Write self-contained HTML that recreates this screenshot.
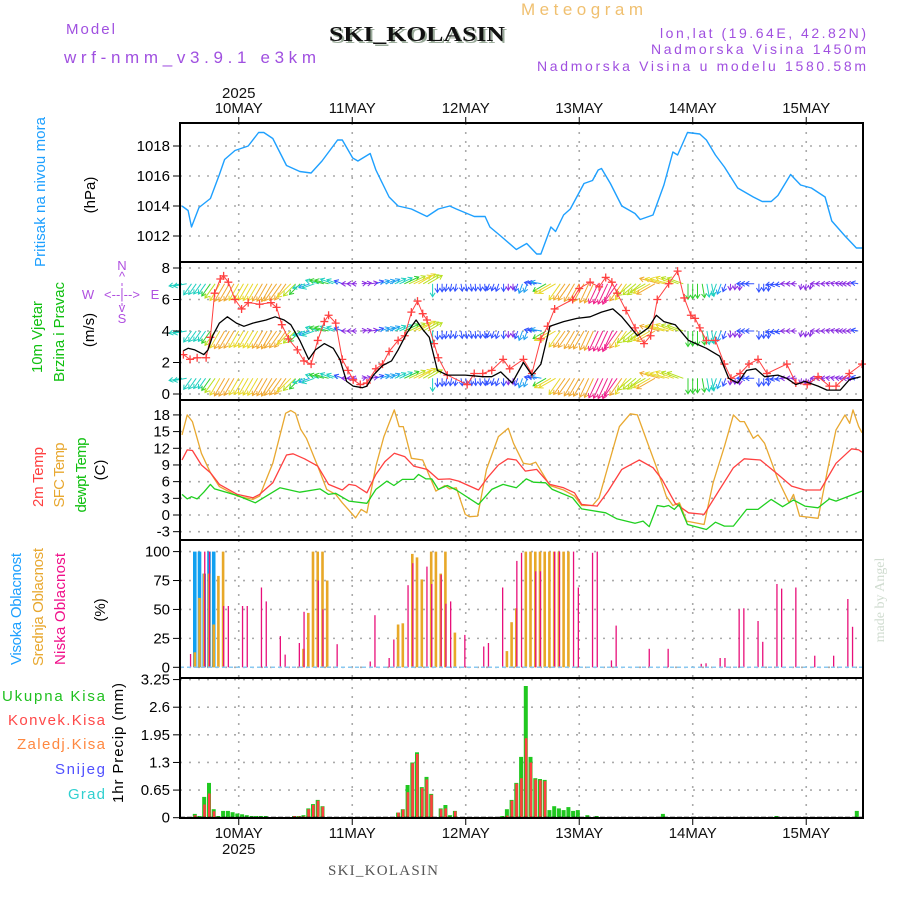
<!DOCTYPE html>
<html><head><meta charset="utf-8"><title>Meteogram SKI_KOLASIN</title>
<style>
html,body{margin:0;padding:0;background:#fff;}
svg{display:block;font-family:"Liberation Sans",sans-serif;}
.tk{font-size:15px;fill:#000;text-anchor:end;}
.dl{font-size:15px;fill:#111;text-anchor:middle;}
</style></head>
<body>
<svg id="chart" width="900" height="900" viewBox="0 0 900 900" xmlns="http://www.w3.org/2000/svg">
<rect x="0" y="0" width="900" height="900" fill="#fff"/>
<text x="521" y="15" font-size="17" fill="#f0c070" textLength="122" lengthAdjust="spacing">Meteogram</text>
<text x="66" y="34" font-size="15" fill="#a050e0" textLength="49" lengthAdjust="spacing">Model</text>
<text x="64" y="63" font-size="17" fill="#a050e0" textLength="252" lengthAdjust="spacing">wrf-nmm_v3.9.1 e3km</text>
<text x="331" y="43" font-size="21" font-weight="bold" font-family="Liberation Serif, serif" fill="#9a9" textLength="176" lengthAdjust="spacingAndGlyphs">SKI_KOLASIN</text>
<text x="329" y="41" font-size="21" font-weight="bold" font-family="Liberation Serif, serif" fill="#111" textLength="176" lengthAdjust="spacingAndGlyphs">SKI_KOLASIN</text>
<text x="660" y="38" font-size="14" fill="#a050e0" textLength="206" lengthAdjust="spacing">lon,lat (19.64E, 42.82N)</text>
<text x="651" y="54" font-size="14" fill="#a050e0" textLength="215" lengthAdjust="spacing">Nadmorska Visina 1450m</text>
<text x="537" y="71" font-size="14" fill="#a050e0" textLength="329" lengthAdjust="spacing">Nadmorska Visina u modelu 1580.58m</text>

<!-- left titles -->
<g font-size="15">
<text transform="translate(45,192) rotate(-90)" text-anchor="middle" fill="#1ea0ff" textLength="150" lengthAdjust="spacing">Pritisak na nivou mora</text>
<text transform="translate(95,195) rotate(-90)" text-anchor="middle" fill="#000">(hPa)</text>
<text transform="translate(42,337) rotate(-90)" text-anchor="middle" fill="#10c010" textLength="72" lengthAdjust="spacing">10m Vjetar</text>
<text transform="translate(64,332) rotate(-90)" text-anchor="middle" fill="#10c010" textLength="100" lengthAdjust="spacing">Brzina i Pravac</text>
<text transform="translate(94,330) rotate(-90)" text-anchor="middle" fill="#000">(m/s)</text>
<text transform="translate(43,477) rotate(-90)" text-anchor="middle" fill="#ff4040" textLength="60" lengthAdjust="spacing">2m Temp</text>
<text transform="translate(64,475) rotate(-90)" text-anchor="middle" fill="#e8a830" textLength="65" lengthAdjust="spacing">SFC Temp</text>
<text transform="translate(86,475) rotate(-90)" text-anchor="middle" fill="#10c010" textLength="75" lengthAdjust="spacing">dewpt Temp</text>
<text transform="translate(105,470) rotate(-90)" text-anchor="middle" fill="#000">(C)</text>
<text transform="translate(21,609) rotate(-90)" text-anchor="middle" fill="#1ea0ff" textLength="112" lengthAdjust="spacing">Visoka Oblacnost</text>
<text transform="translate(43,607) rotate(-90)" text-anchor="middle" fill="#e8a830" textLength="118" lengthAdjust="spacing">Srednja Oblacnost</text>
<text transform="translate(65,609) rotate(-90)" text-anchor="middle" fill="#f0108a" textLength="112" lengthAdjust="spacing">Niska Oblacnost</text>
<text transform="translate(105,610) rotate(-90)" text-anchor="middle" fill="#000">(%)</text>
<text transform="translate(123,743) rotate(-90)" text-anchor="middle" fill="#000" textLength="120" lengthAdjust="spacing">1hr Precip (mm)</text>
<text x="2" y="701" fill="#20c020" textLength="103" lengthAdjust="spacing">Ukupna  Kisa</text>
<text x="8" y="725" fill="#ff4848" textLength="97" lengthAdjust="spacing">Konvek.Kisa</text>
<text x="17" y="749" fill="#ff8840" textLength="88" lengthAdjust="spacing">Zaledj.Kisa</text>
<text x="55" y="774" fill="#5050ff" textLength="50" lengthAdjust="spacing">Snijeg</text>
<text x="68" y="799" fill="#30d0d0" textLength="37" lengthAdjust="spacing">Grad</text>
</g>
<g fill="#b050e0" font-size="13" text-anchor="middle">
<text x="122" y="270">N</text><text x="122" y="281">^</text>
<text x="88" y="299">W</text><text x="122" y="299">&lt;--|--&gt;</text><text x="155" y="299">E</text>
<text x="122" y="312">v</text><text x="122" y="323">S</text>
<line x1="122" y1="283" x2="122" y2="306" stroke="#b050e0" stroke-dasharray="3 2"/>
</g>
<text transform="translate(884,600) rotate(-90)" text-anchor="middle" font-size="14" font-family="Liberation Serif, serif" fill="#d0dcd0">made by Angel</text>
<text x="328" y="875" font-size="15" font-family="Liberation Serif, serif" fill="#555" textLength="110" lengthAdjust="spacing">SKI_KOLASIN</text>

<g id="grid"></g>
<g id="marks"></g>
<g id="axes"></g>
</svg>
<script>
// ---------- data ----------
const dayLabels = ["10MAY","11MAY","12MAY","13MAY","14MAY","15MAY"];
const yearLabel = "2025";
const pressTicks = [1018,1016,1014,1012];
const windTicks = [8,6,4,2,0];
const tempTicks = [18,15,12,9,6,3,0,-3];
const cloudTicks = [100,75,50,25,0];
const precipTicks = [3.25,2.6,1.95,1.3,0.65,0];

const pressH = [0,1.3,2,3.6,6,7.9,9,11.2,14,16.2,17.3,19.2,22.1,24.9,27.3,29.6,32.9,33.9,36.1,37.2,39.8,41,43.8,45.7,48.5,51.8,54.2,56.6,58,61.8,64.1,65.1,67.4,70.7,72.9,75,75.9,78,79,80.7,82.1,85,86.8,88,88.7,90.6,93,95.8,96.9,99.6,101.9,103.8,104.8,106.9,109.5,110.9,112.8,114.7,117.5,120.8,122.7,124.6,126,128.7,130.8,133.1,136,137.4,140.2,142.6,143.8];
const pressV = [1014.0,1013.7,1012.6,1013.9,1014.5,1016.1,1017.1,1017.7,1018.0,1018.9,1018.9,1018.5,1016.7,1016.3,1016.2,1017,1018.4,1018.4,1017.2,1017,1017.5,1016.4,1014.6,1014,1013.8,1013.3,1013.8,1014,1013.8,1013.3,1013.3,1012.6,1012,1011.1,1011.5,1010.8,1010.8,1012.6,1012.3,1013.4,1013.8,1015.5,1015.7,1016.4,1016.5,1015.5,1014,1013.5,1013.1,1013.4,1015.4,1017.6,1017.4,1018.9,1018.8,1018.4,1017.4,1016.6,1015.2,1014.6,1014.3,1014.3,1014.7,1016.1,1015.4,1015.2,1014.6,1013,1012,1011.2,1011.2];

const windH = [0.3,1.3,2.7,4.6,5.5,6.5,7.9,9.6,11.5,13.1,15,17.8,19.7,21.6,23,24.9,26.8,28.2,30.1,32,33.4,34.8,36.2,38.1,39.1,40.5,42.4,44.3,45.7,47.6,49.5,50.9,52.3,54,56.1,59.9,63.6,65.5,67.4,69.8,72.2,74,75.9,77.8,80.7,83.5,86.3,88.7,91.1,93,94.4,96.3,98.6,100.3,101.9,104.3,107.1,110.9,113.7,115.6,117.5,119.4,121.3,123.2,126,127.9,129.8,131.7,134.5,136.4,139.2,141.1,143.5];
const windV = [2.75,2.9,2.8,2.5,2.8,3.7,4.5,4.9,4.5,4.3,4.5,4.7,4.9,4.7,4.4,3.4,2.2,2.8,3.2,2.9,2.2,0.8,0.5,0.4,0.5,1.2,1.8,2.1,2.8,3.9,4.7,4.1,3.6,1.5,1.2,1.2,1.1,1.1,1.4,0.7,2.0,1.2,1.9,4.3,4.6,4.8,4.9,5.2,5.4,4.9,4.4,3.7,4.2,5.0,4.6,4.4,3.4,2.9,2.4,1.0,0.7,1.5,1.6,1.1,1.2,1.0,0.6,0.8,0.5,0.25,0.25,0.9,1.1];
const gustH = [0.3,1.7,3.2,5.1,6,6.9,8.1,8.8,9.8,11.2,12.6,14,16.4,18.8,20,21.1,22.5,24.4,25.8,27.3,28.7,30.1,31,32.5,33.9,35.1,36.2,37.7,39.1,41,42.4,43.8,45.7,47.1,48.5,49.8,50.9,51.8,53.3,54.2,56.1,60.3,61.8,63.6,65.5,67.9,69.3,72.2,74,75.9,77.3,78.8,82.6,84,86.3,88.2,89.6,90.9,92,93.9,95.8,97.7,99.1,100.5,102.9,104.8,106.2,107.6,108.5,109.5,110.9,112.8,114.7,116.1,118,119.9,121.8,123.7,127.9,129.8,132.2,134.5,136.9,138.3,141.1,143.8];
const gustV = [2.5,2.2,2.3,2.3,3.6,6.4,7.3,7.5,7.1,6.0,5.4,5.8,5.7,5.8,5.5,4.4,3.5,2.8,2.1,1.9,3.4,4.6,5.0,4.5,2.2,1.5,0.9,0.6,0.7,1.6,1.9,2.7,3.4,3.7,5.2,5.9,5.1,4.7,3.2,2.3,1.2,0.6,1.3,1.3,1.5,2.2,1.6,2.2,1.3,3.5,4.3,5.4,6.0,6.7,7.1,6.8,7.4,7.1,6.4,5.3,4.2,3.2,3.7,6.0,7.0,7.8,6.1,5.0,4.8,4.2,3.4,3.4,1.9,1.0,1.3,1.9,2.2,1.3,1.9,0.7,0.6,1.1,0.5,0.5,1.3,1.9];
// wind "to" direction (compass deg), every 3 hours
const windDir3h = [260,215,215,210,210,210,210,215,225,250,285,290,270,80,70,65,65,60,180,190,170,175,200,180,200,280,240,215,210,205,205,215,230,240,285,290,180,170,200,185,270,180,260,270,190,270,280,270,280];
const windRows = [7,4,1];

const sfcH = [0,1.1,2.2,4.1,6,7.9,11.7,15,16.4,19.2,21.9,23,24,25.1,26.3,28.7,30.6,32.5,33.9,36.7,37.9,39.1,41,42.7,44.9,45.9,46.8,48.5,50.9,53.7,55.6,56.6,58,59.9,60.8,62.5,64.4,66.9,69,70.1,72.2,73.6,74.8,77.8,80.7,83,84.5,86.8,88.2,90.1,92.5,94.8,96.3,98.6,100.5,102.4,103.8,105.2,106.7,110.4,112.3,114.7,116.6,118,118.9,120.8,121.8,123.2,126,128.4,129.3,130.6,134.5,136.4,138.3,140.2,141.2,141.9,143.1,143.8];
const sfcV = [14.4,18,16.8,11.1,7.6,5.1,3.4,2.8,3.4,9.3,18.3,18.8,18.3,15.4,13.8,8.8,4.6,3.7,2.2,-0.5,1.0,0.4,8.8,14.1,18.9,15.9,15.9,10.2,9.9,4.3,5.3,4.7,4.9,0.1,-0.3,-0.2,8.2,14.1,15.6,12.9,9.3,9.1,9.5,5.3,4.5,3.4,1.7,1.7,3.1,8.8,15.9,18.2,18,12.6,8.2,3.4,1.7,2.2,-1.1,-1.7,5.8,12.3,18,16.8,16.8,13.8,14.4,12.9,6.4,2.2,3.7,-0.2,-0.6,7.6,15.3,18,16.5,18.9,15.9,14.8];
const t2mH = [0,1.1,2.2,4.1,6,7.9,11.7,15,16.4,19.2,22.1,23.5,25.9,28.7,31,33.9,35.3,36.7,39.1,41,42.9,44.9,47.1,49,51.8,54.2,56.6,58.5,62.7,64.6,66.9,68.9,70.7,72.6,75,77.8,80.7,83,84.5,87.8,90.1,93,96.7,99.6,101.5,104.3,107.1,110.4,113.7,116.6,118.9,122.3,126,128.9,131.7,135,138.3,141.6,143.1,143.8];
const t2mV = [9.9,11.7,11.6,9.0,7.6,5.5,3.7,3.1,3.7,5.8,10.8,11.0,10.1,8.8,5.5,4.5,5.5,5.3,4.0,7.3,9.6,11.1,10.5,8.8,8.2,6.4,6.5,6.1,4.5,6.7,9.0,10.1,9.9,7.9,8.2,5.5,4.9,4.0,1.9,1.6,4.3,8.2,9.9,8.5,6.4,2.1,0.4,0.1,4.6,8.5,10.1,9.9,7.3,5.2,4.5,4.5,9.3,11.9,11.7,11.3];
const dewH = [0,1.1,2,3.2,4.6,6,6.9,11.7,15.5,20.7,24.9,29.2,31,32.5,35.3,39.1,41,43.3,44.8,46.6,49,50,51.6,52.8,54.2,56.1,58,62.7,65.5,67.9,70.7,72.8,74.3,76.9,78.3,82.6,84.5,89.6,92,95.8,97.5,98.8,100.5,101.9,102.9,104.1,105.1,106.9,110.9,112.8,114.7,116.6,119.4,121.8,124.6,127,129.3,131.7,134.5,136.9,138.3,143.8];
const dewV = [3.7,2.9,3.3,2.9,4.1,5.5,4.7,3.5,2.2,4.9,4.1,4.7,3.7,3.9,2.5,2.1,4.6,6.1,5.3,6.4,6.4,7.3,6.5,6.5,4.6,5.3,4.5,1.9,4.6,5.5,4.9,6.5,5.9,5.8,4.6,3.1,1.1,0.4,-0.7,-1.5,-1.1,-2.1,1.7,1.5,1.7,1.0,1.9,-1.7,-2.6,-1.3,-2.0,-2.0,1.0,1.0,2.8,1.5,2.7,1.6,1.3,2.9,2.5,4.3];

const highCloudH = [3,4,5,6,7];
const highCloudV = [100,100,81,100,100];
const midCloudH = [3,4,5,6,7,8,9,26,27,28,29,30,31,46,47,49,50,51,53,54,55,56,58,69,70,71,73,74,75,76,77,78,79,80,81,82];
const midCloudV = [13,60,81,81,37,79,100,16,47,100,100,100,75,37,38,98,95,76,100,100,81,100,30,14,39,51,100,100,100,100,100,100,100,100,100,100];
const lowCloudH = [2,5,6,9,10,13,14,17,18,21,22,25,26,29,30,33,40,41,44,45,48,49,52,53,55,56,57,60,64,65,68,71,72,75,76,79,80,83,84,87,88,91,92,99,103,110,111,114,115,118,119,122,123,126,127,130,134,138,141,142];
const lowCloudV = [11.5,100,100,53,53,53,53,69,57,27,11,21,48,75,50,20,5,45,8,24,71,90,87,72,80,55,57,28,18,21,69,92,99,83,83,100,100,100,69,99,100,6,36,16,16,3,3.5,8,8,50,51,40,22,72,68,69,10,10,59,35];

const precipH = [3,4,5,6,7,8,9,10,11,12,13,14,15,16,17,18,24,25,26,27,28,29,30,46,47,48,49,50,51,52,53,55,56,57,58,68,69,70,71,72,73,74,75,76,77,78,79,80,81,82,83,84,86,88,102,126,143];
const totalRain = [0.09,0.04,0.49,0.82,0.2,0.04,0.16,0.16,0.13,0.1,0.08,0.06,0.04,0.04,0.04,0.04,0.04,0.04,0.06,0.22,0.32,0.42,0.27,0.12,0.2,0.77,1.3,1.54,0.72,0.96,0.56,0.22,0.3,0.06,0.16,0.04,0.2,0.42,0.82,1.43,3.1,1.43,0.93,0.91,0.89,0.18,0.27,0.22,0.18,0.25,0.16,0.18,0.06,0.04,0.09,0.04,0.16];
const convRain = [0.06,0,0.31,0.57,0.15,0,0,0,0,0,0,0,0,0,0,0,0.04,0.03,0.03,0.2,0.3,0.4,0.26,0.12,0.19,0.6,1.28,1.5,0.7,0.9,0.54,0.2,0.22,0.02,0.15,0.02,0.05,0.4,0.8,0.93,1.87,1.3,0.9,0.88,0.86,0,0,0,0,0,0,0,0,0,0,0,0];

// ---------- axes ----------
const NS = "http://www.w3.org/2000/svg";
const L = 180, R = 863;
const X = h => 182 + h * 4.729;
const Yp = p => 146 + (1018 - p) * 15;
const Yw = s => 394 - s * 15.75;
const Yt = t => 515 - t * 5.56;
const Yc = c => 667.3 - c * 1.157;
const Yr = r => 817.7 - r * 42.5;
const panels = [[123,262,pressTicks,Yp,"pressure"],[262,400,windTicks,Yw,"wind"],[400,540,tempTicks,Yt,"temperature"],[540,678,cloudTicks,Yc,"cloud"],[678,818,precipTicks,Yr,"precip"]];

function mk(tag, attrs, parent) {
  const e = document.createElementNS(NS, tag);
  for (const k in attrs) e.setAttribute(k, attrs[k]);
  parent.appendChild(e);
  return e;
}
const G = document.getElementById("grid");
const M = document.getElementById("marks");
const A = document.getElementById("axes");

panels.forEach(([top, bot, ticks, Y, nm]) => {
  ticks.forEach(v => {
    const y = Y(v);
    if (y > top + 1 && y < bot - 1) {
      const g = mk("line", {x1:L, x2:R, y1:y, y2:y, stroke:"#aaa", "stroke-width":1.6, "stroke-dasharray":"2 7"}, G);
      
      
    }
    const t = mk("line", {x1:173, x2:L, y1:y, y2:y, stroke:"#000", "stroke-width":1}, A);
    
    
    const lb = mk("text", {x:170, y:y + 5, class:"tk"}, A);
    lb.textContent = String(v);
    
    
  });
  for (let k = 0; k < dayLabels.length; k++) {
    const x = X(12 + 24 * k);
    const g = mk("line", {x1:x, x2:x, y1:top, y2:bot, stroke:"#aaa", "stroke-width":1.6, "stroke-dasharray":"2 7"}, G);
    
    
  }
  const b = mk("rect", {x:L, y:top, width:R - L, height:bot - top, fill:"none", stroke:"#000", "stroke-width":2}, A);
  
  
});
dayLabels.forEach((d, k) => {
  const x = X(12 + 24 * k);
  [[117, 123], [818, 825]].forEach(([a, b2]) => {
    const t = mk("line", {x1:x, x2:x, y1:a, y2:b2, stroke:"#000", "stroke-width":1}, A);
    
    
  });
  const t1 = mk("text", {x:x, y:113, class:"dl"}, A);
  t1.textContent = d;
  
  
  const t2 = mk("text", {x:x, y:838, class:"dl"}, A);
  t2.textContent = d;
  
  
});
const y1 = mk("text", {x:X(12), y:98, class:"dl"}, A);
y1.textContent = yearLabel;


const y2 = mk("text", {x:X(12), y:854, class:"dl"}, A);
y2.textContent = yearLabel;



function line(H, V, Y, color, w, name) {
  const d = H.map((h, i) => (i ? "L" : "M") + X(h).toFixed(1) + "," + Y(V[i]).toFixed(1)).join("");
  const p = mk("path", {d:d, fill:"none", stroke:color, "stroke-width":w, "stroke-linejoin":"round"}, M);
  
  
}
function interp(H, V, h) {
  if (h <= H[0]) return V[0];
  for (let i = 1; i < H.length; i++) if (h <= H[i]) { const f = (h - H[i-1]) / (H[i] - H[i-1]); return V[i-1] + f * (V[i] - V[i-1]); }
  return V[V.length - 1];
}

line(pressH, pressV, Yp, "#1ea0ff", 1.4, "pressure-line");

function spColor(s) {
  if (s < 1) return "#8a2be2";
  if (s < 1.6) return "#3050ff";
  if (s < 2.3) return "#20a0f0";
  if (s < 3) return "#20d0c0";
  if (s < 3.7) return "#30d030";
  if (s < 4.2) return "#b8e020";
  if (s < 4.6) return "#e8d828";
  if (s < 5.1) return "#f0a830";
  return "#f0208a";
}
for (let h = 0; h <= 143; h++) {
  const s = interp(windH, windV, h);
  const dir = windDir3h[Math.round(h / 3)] * Math.PI / 180;
  const len = 3.2 + s * 3.6;
  const dx = Math.sin(dir) * len, dy = -Math.cos(dir) * len;
  const c = spColor(s);
  windRows.forEach(row => {
    const x0 = X(h), y0 = Yw(row);
    const x1 = x0 + dx, y1b = y0 + dy;
    const ux = dx / len, uy = dy / len;
    const hx1 = x1 - ux * 4 + uy * 2.5, hy1 = y1b - uy * 4 - ux * 2.5;
    const hx2 = x1 - ux * 4 - uy * 2.5, hy2 = y1b - uy * 4 + ux * 2.5;
    const a = mk("path", {d:`M${x0.toFixed(1)},${y0.toFixed(1)}L${x1.toFixed(1)},${y1b.toFixed(1)}M${hx1.toFixed(1)},${hy1.toFixed(1)}L${x1.toFixed(1)},${y1b.toFixed(1)}L${hx2.toFixed(1)},${hy2.toFixed(1)}`, fill:"none", stroke:c, "stroke-width":1}, M);
    
    
  });
}
line(gustH, gustV, Yw, "#ff4040", 1, "wind-gust-line");
gustH.forEach((h, i) => {
  const x = X(h), y = Yw(gustV[i]);
  const p = mk("path", {d:`M${x-4},${y}H${x+4}M${x},${y-4}V${y+4}`, stroke:"#ff4040", "stroke-width":1.3}, M);
  
  
});
line(windH, windV, Yw, "#000", 1.3, "wind-speed-line");

line(sfcH, sfcV, Yt, "#e8a830", 1.3, "sfc-temp-line");
line(t2mH, t2mV, Yt, "#ff4040", 1.3, "temp-2m-line");
line(dewH, dewV, Yt, "#20d020", 1.3, "dewpoint-line");

function bars(H, V, Y, color, w, name, off) {
  H.forEach((h, i) => {
    const x = X(h - 0.3) + off, y = Y(V[i]), y0 = Y(0);
    const r = mk("rect", {x:(x - w / 2).toFixed(1), y:y.toFixed(1), width:w, height:Math.max(0, y0 - y).toFixed(1), fill:color}, M);
    
    
  });
}
bars(highCloudH, highCloudV, Yc, "#10a0f0", 3.6, "high-cloud-bar", 0);
bars(midCloudH, midCloudV, Yc, "#e8a828", 2.6, "mid-cloud-bar", 0);
bars(lowCloudH, lowCloudV, Yc, "#e8107a", 1.3, "low-cloud-bar", 0.5);
const cb = mk("line", {x1:L, x2:R, y1:Yc(0), y2:Yc(0), stroke:"#8ac8f0", "stroke-width":1.5, "stroke-dasharray":"4 3"}, M);



bars(precipH, totalRain, Yr, "#20c820", 4, "total-rain-bar", 0);
bars(precipH, convRain, Yr, "#ff4040", 2.6, "convective-rain-bar", 0.3);
const pb = mk("line", {x1:L, x2:R, y1:Yr(0), y2:Yr(0), stroke:"#000", "stroke-width":2, "stroke-dasharray":"5 2"}, M);


</script>
</body></html>
